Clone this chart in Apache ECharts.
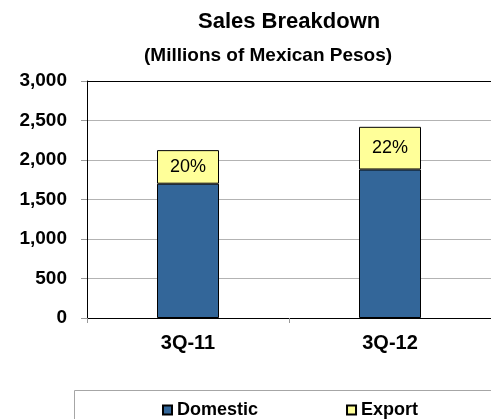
<!DOCTYPE html>
<html>
<head>
<meta charset="utf-8">
<title>Sales Breakdown</title>
<script src="https://cdn.jsdelivr.net/npm/echarts@6/dist/echarts.min.js"></script>
<style>
  html, body { margin: 0; padding: 0; background: #fff; }
  #chart { width: 491px; height: 419px; }
</style>
</head>
<body>
<div id="chart"></div>
<script>
// Quarterly sales, millions of Mexican pesos
const quarters = ['3Q-11', '3Q-12'];
const domestic = [1700, 1880];
const exportSales = [425, 540];
const yTicks = [0, 500, 1000, 1500, 2000, 2500, 3000];

const FONT = 'Arial, "Liberation Sans", Helvetica, sans-serif';

// share of export in total sales, shown inside the export segment
function exportShare(i) {
  const total = domestic[i] + exportSales[i];
  return Math.round(exportSales[i] / total * 100) + '%';
}

const chart = echarts.init(document.getElementById('chart'), null, { renderer: 'canvas' });

chart.setOption({
  animation: false,
  backgroundColor: '#ffffff',
  textStyle: { fontFamily: FONT },
  title: [
    {
      text: 'Sales Breakdown',
      left: 193, top: 6,
      textStyle: { fontFamily: FONT, fontSize: 22, fontWeight: 'bold', color: '#000' }
    },
    {
      text: '(Millions of Mexican Pesos)',
      left: 139, top: 41,
      textStyle: { fontFamily: FONT, fontSize: 19, fontWeight: 'bold', color: '#000' }
    }
  ],
  grid: { left: 87, top: 81, right: -5, bottom: 101, containLabel: false },
  legend: {
    data: ['Domestic', 'Export'],
    left: 157, top: 396,
    itemWidth: 9, itemHeight: 9,
    itemGap: 88,
    icon: 'rect',
    textStyle: { fontFamily: FONT, fontSize: 18, fontWeight: 'bold', color: '#000' }
  },
  graphic: [
    {
      type: 'rect',
      shape: { x: 74.5, y: 390.5, width: 480, height: 80 },
      style: { fill: 'none', stroke: '#a6a6a6', lineWidth: 1 },
      silent: true
    }
  ],
  xAxis: [
    {
      type: 'category',
      data: quarters,
      axisLine: { lineStyle: { color: '#000', width: 1 } },
      axisTick: { show: true, length: 5, inside: false, lineStyle: { color: '#999' } },
      axisLabel: { margin: 15, fontFamily: FONT, fontSize: 20, fontWeight: 'bold', color: '#000' },
      splitLine: { show: false }
    },
    {
      type: 'category',
      data: quarters,
      position: 'top',
      axisLine: { show: true, lineStyle: { color: '#000', width: 1 } },
      axisTick: { show: false },
      axisLabel: { show: false },
      splitLine: { show: false }
    }
  ],
  yAxis: {
    type: 'value',
    min: yTicks[0],
    max: yTicks[yTicks.length - 1],
    interval: yTicks[1] - yTicks[0],
    axisLine: { show: true, lineStyle: { color: '#000', width: 1 } },
    axisTick: { show: true, length: 6, lineStyle: { color: '#999' } },
    axisLabel: {
      margin: 20,
      fontFamily: FONT, fontSize: 19, fontWeight: 'bold', color: '#000',
      formatter: v => v.toLocaleString('en-US')
    },
    splitLine: { show: true, lineStyle: { color: '#b3b3b3', width: 1 } }
  },
  series: [
    {
      name: 'Domestic',
      type: 'bar',
      stack: 'sales',
      barWidth: 62,
      data: domestic,
      itemStyle: { color: '#336699', borderColor: '#000', borderWidth: 1 }
    },
    {
      name: 'Export',
      type: 'bar',
      stack: 'sales',
      barWidth: 62,
      data: exportSales,
      itemStyle: { color: '#ffff99', borderColor: '#000', borderWidth: 1 },
      label: {
        show: true,
        position: 'inside',
        fontFamily: FONT, fontSize: 18, color: '#000',
        formatter: p => exportShare(p.dataIndex)
      }
    }
  ]
});
</script>
</body>
</html>
